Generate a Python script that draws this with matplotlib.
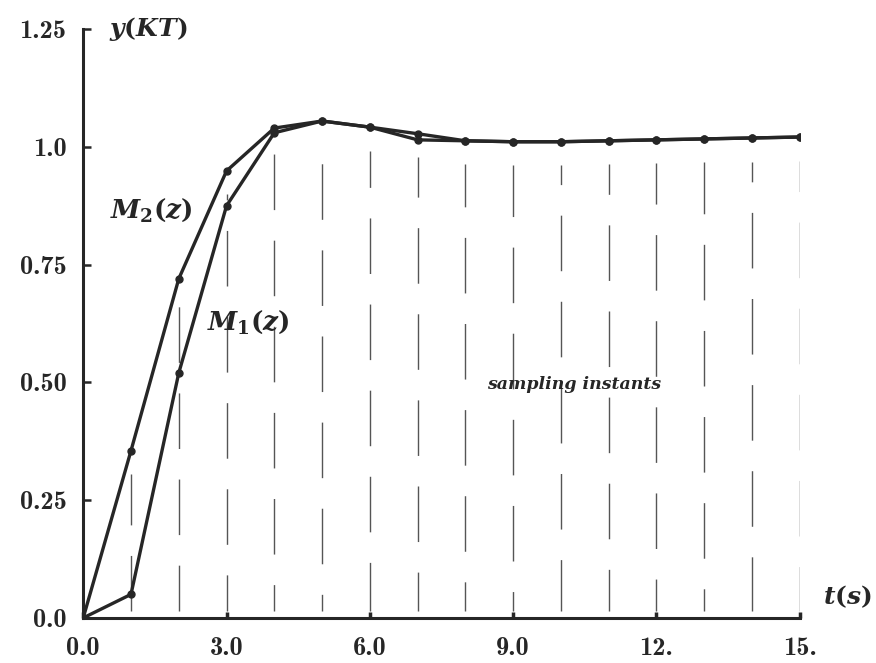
import numpy as np
import matplotlib
matplotlib.use('Agg')
import matplotlib.pyplot as plt

plt.rcParams['mathtext.fontset'] = 'custom'
plt.rcParams['mathtext.it'] = 'DejaVu Serif:italic:bold'
plt.rcParams['mathtext.rm'] = 'DejaVu Serif:bold'
plt.rcParams['mathtext.bf'] = 'DejaVu Serif:bold'

# step response samples y(KT)
t = [0, 1, 2, 3, 4, 5, 6, 7, 8, 9, 10, 11, 12, 13, 14, 15]
m1 = [0.0, 0.05, 0.52, 0.875, 1.03, 1.055, 1.042, 1.015, 1.013, 1.011,
      1.011, 1.013, 1.015, 1.017, 1.019, 1.021]
m2 = [0.0, 0.355, 0.72, 0.949, 1.04, 1.055, 1.042, 1.028, 1.013, 1.011,
      1.011, 1.013, 1.015, 1.017, 1.019, 1.021]

xticks = [0, 3, 6, 9, 12, 15]
xticklabels = ['0.0', '3.0', '6.0', '9.0', '12.', '15.']
yticks = [0, 0.25, 0.5, 0.75, 1.0, 1.25]
yticklabels = ['0.0', '0.25', '0.50', '0.75', '1.0', '1.25']

ink = '#262626'

fig = plt.figure(figsize=(8.76, 6.63), dpi=100)
ax = fig.add_axes([0.095, 0.068, 0.818, 0.888])

# sampling instants: dashed verticals under the curves
for i, k in enumerate(t[1:]):
    top = max(m1[i + 1], m2[i + 1]) - 0.05
    ax.plot([k, k], [0.015, top], color='#555555', lw=1.0,
            linestyle=(i * 7 % 30, (40, 22)), zorder=1)

ax.plot(t, m1, color=ink, lw=2.4, marker='o', ms=5, zorder=3)
ax.plot(t, m2, color=ink, lw=2.4, marker='o', ms=5, zorder=3)

ax.set_xlim(0, 15)
ax.set_ylim(0, 1.25)
for s in ['top', 'right']:
    ax.spines[s].set_visible(False)
for s in ['left', 'bottom']:
    ax.spines[s].set_linewidth(2.2)
    ax.spines[s].set_color(ink)

ax.set_xticks(xticks)
ax.set_xticklabels(xticklabels, fontfamily='cmb10', fontsize=19)
ax.set_yticks(yticks)
ax.set_yticklabels(yticklabels, fontfamily='cmb10', fontsize=19)
ax.tick_params(axis='y', direction='in', length=6, width=1.8, pad=12, colors=ink)
ax.tick_params(axis='x', direction='in', length=4, width=2.5, pad=14, colors=ink)

ax.text(0.55, 1.25, r'$y(KT)$', fontsize=18, va='center', ha='left', color=ink)
ax.text(0.56, 0.866, r'$M_2(z)$', fontsize=19, va='center', ha='left', color=ink)
ax.text(2.59, 0.628, r'$M_1(z)$', fontsize=19, va='center', ha='left', color=ink)
ax.text(8.45, 0.495, 'sampling instants', fontsize=12.5, fontfamily='DejaVu Serif',
        fontweight='bold', fontstyle='italic', va='center', ha='left', color=ink)
ax.text(15.48, 0.045, r'$t(s)$', fontsize=18, va='center', ha='left', color=ink,
        clip_on=False)

fig.savefig('out.png', dpi=100)
